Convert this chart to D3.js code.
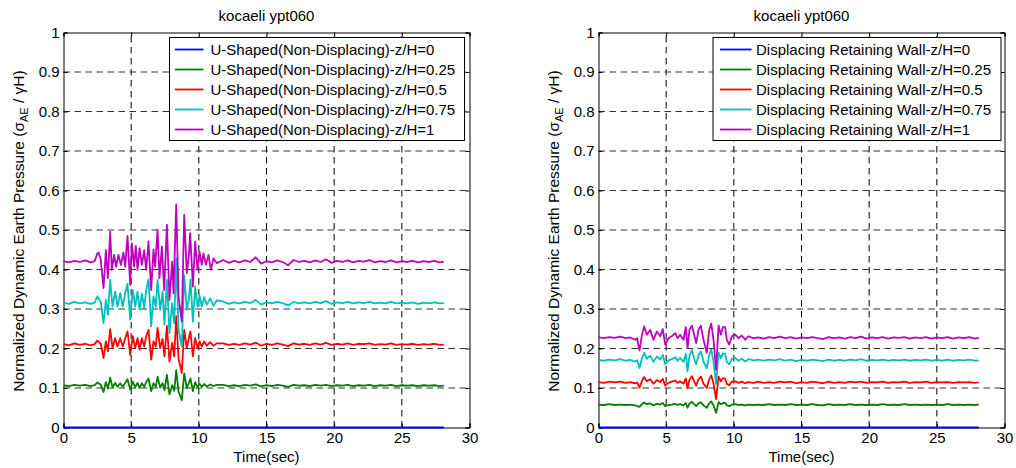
<!DOCTYPE html>
<html>
<head>
<meta charset="utf-8">
<script src="https://cdn.jsdelivr.net/npm/d3@7"></script>
<style>
  html, body { margin: 0; padding: 0; background: #fff; }
  svg { display: block; font-family: "Liberation Sans", Arial, Helvetica, sans-serif; }
</style>
</head>
<body>
<svg id="chart" width="1016" height="468"></svg>
<script>
// ---------------- DATA ----------------
const chartTitle = "kocaeli ypt060";
const xLabel = "Time(sec)";
const xTicks = [0, 5, 10, 15, 20, 25, 30];
const xTickLabels = ["0", "5", "10", "15", "20", "25", "30"];
const yTicks = [0, 0.1, 0.2, 0.3, 0.4, 0.5, 0.6, 0.7, 0.8, 0.9, 1];
const yTickLabels = ["0", "0.1", "0.2", "0.3", "0.4", "0.5", "0.6", "0.7", "0.8", "0.9", "1"];

const leftSeriesNames = [
  "U-Shaped(Non-Displacing)-z/H=0",
  "U-Shaped(Non-Displacing)-z/H=0.25",
  "U-Shaped(Non-Displacing)-z/H=0.5",
  "U-Shaped(Non-Displacing)-z/H=0.75",
  "U-Shaped(Non-Displacing)-z/H=1"
];
const rightSeriesNames = [
  "Displacing Retaining Wall-z/H=0",
  "Displacing Retaining Wall-z/H=0.25",
  "Displacing Retaining Wall-z/H=0.5",
  "Displacing Retaining Wall-z/H=0.75",
  "Displacing Retaining Wall-z/H=1"
];
const seriesColors = ["#0000ff", "#008000", "#ff0000", "#00bfbf", "#bf00bf"];

// times of the quiet tail (after strong shaking)
const quietT = [11.8,12.2,12.6,13.0,13.4,13.8,14.2,14.6,15.0,15.4,15.8,16.2,16.6,17.0,17.4,17.8,18.2,18.6,19.0,19.4,19.8,20.2,20.6,21.0,21.4,21.8,22.2,22.6,23.0,23.4,23.8,24.2,24.6,25.0,25.4,25.8,26.2,26.6,27.0,27.4,27.8,28.1];

// ---- Left panel (U-shaped, non-displacing) ----
const leftZ0 = [[0,0],[28.1,0]];
const leftZ025Active = [[0,0.107],[0.4,0.105],[0.8,0.108],[1.2,0.106],[1.6,0.108],[2.0,0.105],[2.3,0.107],[2.51,0.114],[2.75,0.108],[2.96,0.090],[3.13,0.115],[3.28,0.099],[3.45,0.126],[3.62,0.102],[3.82,0.113],[3.99,0.103],[4.19,0.112],[4.38,0.103],[4.56,0.113],[4.73,0.122],[4.93,0.096],[5.12,0.116],[5.30,0.102],[5.47,0.113],[5.62,0.100],[5.79,0.112],[5.96,0.103],[6.11,0.115],[6.28,0.124],[6.48,0.092],[6.65,0.112],[6.82,0.103],[6.95,0.129],[7.14,0.101],[7.32,0.112],[7.46,0.095],[7.64,0.133],[7.83,0.084],[8.03,0.107],[8.18,0.093],[8.33,0.145],[8.50,0.091],[8.74,0.069],[8.92,0.137],[9.11,0.100],[9.26,0.113],[9.38,0.124],[9.56,0.092],[9.73,0.115],[9.90,0.102],[10.05,0.111],[10.22,0.103],[10.39,0.110],[10.59,0.104],[10.84,0.109],[11.08,0.105],[11.33,0.108]];
const leftZ025Quiet = [0.108,0.105,0.107,0.105,0.108,0.106,0.109,0.104,0.107,0.105,0.108,0.106,0.103,0.108,0.106,0.107,0.105,0.108,0.106,0.108,0.105,0.107,0.106,0.108,0.105,0.107,0.106,0.108,0.105,0.107,0.106,0.108,0.105,0.107,0.106,0.107,0.105,0.107,0.106,0.107,0.105,0.106];
const leftZ05Active = [[0,0.211],[0.4,0.208],[0.8,0.213],[1.2,0.209],[1.6,0.212],[2.0,0.208],[2.3,0.211],[2.51,0.220],[2.75,0.212],[2.96,0.176],[3.13,0.218],[3.28,0.193],[3.45,0.249],[3.62,0.201],[3.82,0.226],[3.99,0.205],[4.19,0.226],[4.38,0.205],[4.56,0.226],[4.73,0.243],[4.93,0.184],[5.12,0.231],[5.30,0.201],[5.47,0.226],[5.62,0.197],[5.79,0.226],[5.96,0.205],[6.11,0.231],[6.28,0.247],[6.48,0.172],[6.65,0.218],[6.82,0.205],[6.95,0.252],[7.14,0.201],[7.32,0.224],[7.46,0.180],[7.64,0.257],[7.83,0.167],[8.03,0.214],[8.18,0.180],[8.33,0.282],[8.50,0.175],[8.74,0.138],[8.92,0.247],[9.11,0.201],[9.26,0.226],[9.38,0.243],[9.56,0.180],[9.73,0.226],[9.90,0.201],[10.05,0.218],[10.22,0.205],[10.39,0.218],[10.59,0.207],[10.84,0.216],[11.08,0.207],[11.33,0.213]];
const leftZ05Quiet = [0.213,0.209,0.212,0.209,0.213,0.210,0.215,0.207,0.212,0.209,0.213,0.210,0.206,0.213,0.210,0.212,0.209,0.213,0.210,0.214,0.209,0.212,0.210,0.213,0.209,0.212,0.211,0.213,0.209,0.211,0.210,0.213,0.209,0.211,0.210,0.212,0.209,0.211,0.210,0.212,0.209,0.210];
const leftZ075Active = [[0,0.316],[0.4,0.313],[0.8,0.318],[1.2,0.314],[1.6,0.317],[2.0,0.313],[2.3,0.316],[2.51,0.332],[2.75,0.318],[2.96,0.264],[3.13,0.323],[3.28,0.285],[3.45,0.374],[3.62,0.306],[3.82,0.344],[3.99,0.306],[4.19,0.340],[4.38,0.306],[4.56,0.340],[4.73,0.364],[4.93,0.273],[5.12,0.348],[5.30,0.306],[5.47,0.344],[5.62,0.298],[5.79,0.338],[5.96,0.302],[6.11,0.348],[6.28,0.375],[6.48,0.256],[6.65,0.332],[6.82,0.306],[6.95,0.374],[7.14,0.298],[7.32,0.344],[7.46,0.260],[7.64,0.374],[7.83,0.239],[8.03,0.315],[8.18,0.264],[8.33,0.428],[8.50,0.247],[8.74,0.205],[8.92,0.386],[9.11,0.298],[9.26,0.323],[9.38,0.374],[9.56,0.268],[9.73,0.357],[9.90,0.306],[10.05,0.333],[10.22,0.306],[10.39,0.330],[10.59,0.311],[10.84,0.327],[11.08,0.308],[11.33,0.322]];
const leftZ075Quiet = [0.319,0.313,0.317,0.314,0.318,0.315,0.323,0.311,0.317,0.314,0.318,0.315,0.309,0.318,0.314,0.317,0.314,0.318,0.315,0.320,0.313,0.317,0.315,0.318,0.314,0.317,0.315,0.318,0.314,0.316,0.314,0.318,0.314,0.316,0.314,0.317,0.313,0.316,0.314,0.317,0.314,0.315];
const leftZ1Active = [[0,0.421],[0.4,0.418],[0.8,0.422],[1.2,0.419],[1.6,0.423],[2.0,0.418],[2.3,0.421],[2.51,0.441],[2.59,0.443],[2.75,0.425],[2.96,0.353],[3.13,0.449],[3.28,0.378],[3.45,0.496],[3.57,0.399],[3.74,0.437],[3.89,0.407],[4.06,0.437],[4.24,0.412],[4.43,0.443],[4.56,0.407],[4.73,0.485],[4.93,0.361],[5.05,0.466],[5.22,0.407],[5.34,0.460],[5.47,0.399],[5.62,0.454],[5.79,0.412],[5.96,0.449],[6.11,0.399],[6.28,0.471],[6.48,0.348],[6.65,0.451],[6.77,0.407],[6.95,0.500],[7.09,0.378],[7.27,0.458],[7.44,0.348],[7.64,0.513],[7.83,0.323],[8.03,0.420],[8.13,0.340],[8.33,0.565],[8.50,0.332],[8.74,0.268],[8.92,0.538],[9.11,0.391],[9.26,0.433],[9.36,0.492],[9.56,0.357],[9.73,0.471],[9.90,0.399],[10.05,0.445],[10.22,0.412],[10.34,0.441],[10.52,0.412],[10.71,0.437],[10.89,0.399],[11.08,0.428],[11.33,0.416]];
const leftZ1Quiet = [0.424,0.417,0.422,0.418,0.423,0.419,0.431,0.415,0.421,0.418,0.423,0.419,0.411,0.424,0.419,0.422,0.418,0.423,0.419,0.426,0.417,0.422,0.419,0.423,0.418,0.422,0.420,0.424,0.418,0.421,0.419,0.423,0.418,0.421,0.419,0.422,0.418,0.421,0.419,0.422,0.418,0.420];

// ---- Right panel (displacing retaining wall) ----
const rightZ0 = [[0,0],[28.1,0]];
const rightZ025Active = [[0,0.058],[0.4,0.057],[0.8,0.059],[1.2,0.057],[1.6,0.058],[2.0,0.057],[2.34,0.058],[2.71,0.056],[3.03,0.052],[3.20,0.059],[3.37,0.063],[3.57,0.059],[3.82,0.061],[4.06,0.056],[4.31,0.060],[4.56,0.058],[4.75,0.062],[4.93,0.054],[5.17,0.057],[5.42,0.058],[5.67,0.060],[5.84,0.057],[6.03,0.059],[6.28,0.056],[6.45,0.062],[6.58,0.050],[6.72,0.061],[6.90,0.065],[7.07,0.059],[7.22,0.054],[7.39,0.061],[7.56,0.064],[7.76,0.056],[8.00,0.050],[8.18,0.061],[8.33,0.066],[8.50,0.056],[8.69,0.037],[8.87,0.064],[9.04,0.059],[9.19,0.062],[9.36,0.062],[9.48,0.056],[9.66,0.054],[9.85,0.058],[10.10,0.059],[10.34,0.057],[10.59,0.058],[10.84,0.056],[11.08,0.058],[11.45,0.057]];
const rightZ025Quiet = [0.058,0.057,0.059,0.057,0.058,0.057,0.059,0.057,0.058,0.057,0.059,0.057,0.056,0.059,0.057,0.058,0.057,0.059,0.057,0.058,0.057,0.058,0.057,0.059,0.057,0.058,0.057,0.059,0.057,0.058,0.057,0.058,0.057,0.058,0.057,0.059,0.057,0.058,0.057,0.058,0.057,0.058];
const rightZ05Active = [[0,0.115],[0.4,0.113],[0.8,0.116],[1.2,0.114],[1.6,0.116],[2.0,0.113],[2.34,0.115],[2.71,0.112],[2.85,0.114],[3.03,0.101],[3.20,0.117],[3.37,0.128],[3.57,0.117],[3.82,0.122],[4.06,0.111],[4.31,0.120],[4.56,0.115],[4.75,0.123],[4.93,0.106],[5.17,0.113],[5.42,0.116],[5.67,0.119],[5.84,0.113],[6.03,0.117],[6.28,0.111],[6.45,0.124],[6.58,0.099],[6.72,0.121],[6.90,0.130],[7.07,0.116],[7.22,0.106],[7.39,0.122],[7.56,0.129],[7.76,0.111],[8.00,0.100],[8.18,0.122],[8.33,0.132],[8.50,0.111],[8.69,0.072],[8.87,0.129],[9.04,0.117],[9.19,0.125],[9.36,0.124],[9.48,0.111],[9.66,0.107],[9.85,0.116],[10.10,0.117],[10.34,0.113],[10.59,0.116],[10.84,0.112],[11.08,0.115],[11.45,0.113]];
const rightZ05Quiet = [0.116,0.113,0.115,0.113,0.116,0.114,0.116,0.112,0.115,0.113,0.116,0.114,0.112,0.116,0.113,0.115,0.113,0.116,0.114,0.116,0.113,0.115,0.114,0.116,0.113,0.115,0.114,0.116,0.113,0.115,0.114,0.116,0.113,0.115,0.114,0.115,0.113,0.115,0.114,0.115,0.113,0.114];
const rightZ075Active = [[0,0.171],[0.4,0.169],[0.8,0.172],[1.2,0.170],[1.6,0.173],[2.0,0.169],[2.34,0.171],[2.71,0.167],[2.85,0.170],[3.03,0.151],[3.20,0.174],[3.37,0.189],[3.57,0.174],[3.82,0.182],[4.06,0.166],[4.31,0.180],[4.56,0.172],[4.75,0.184],[4.93,0.160],[5.17,0.170],[5.42,0.173],[5.67,0.178],[5.84,0.169],[6.03,0.176],[6.28,0.166],[6.45,0.186],[6.58,0.142],[6.72,0.182],[6.90,0.196],[7.07,0.174],[7.22,0.160],[7.39,0.183],[7.56,0.193],[7.76,0.167],[8.00,0.150],[8.18,0.183],[8.33,0.197],[8.50,0.166],[8.69,0.110],[8.87,0.190],[9.04,0.175],[9.19,0.188],[9.36,0.186],[9.48,0.166],[9.66,0.160],[9.85,0.174],[10.10,0.176],[10.34,0.169],[10.59,0.174],[10.84,0.167],[11.08,0.173],[11.45,0.170]];
const rightZ075Quiet = [0.172,0.169,0.172,0.170,0.173,0.169,0.172,0.168,0.171,0.169,0.172,0.170,0.168,0.172,0.169,0.171,0.169,0.172,0.170,0.173,0.169,0.171,0.170,0.172,0.169,0.171,0.170,0.172,0.169,0.171,0.170,0.172,0.169,0.171,0.169,0.172,0.169,0.171,0.170,0.172,0.169,0.170];
const rightZ1Active = [[0,0.228],[0.4,0.226],[0.8,0.229],[1.2,0.227],[1.6,0.230],[2.0,0.226],[2.34,0.228],[2.71,0.222],[2.85,0.226],[3.03,0.195],[3.20,0.232],[3.37,0.256],[3.57,0.235],[3.82,0.247],[4.06,0.222],[4.31,0.243],[4.56,0.231],[4.75,0.249],[4.93,0.210],[5.17,0.226],[5.42,0.231],[5.67,0.239],[5.84,0.226],[6.03,0.235],[6.28,0.222],[6.45,0.254],[6.58,0.201],[6.72,0.247],[6.90,0.258],[7.07,0.235],[7.22,0.214],[7.39,0.247],[7.56,0.258],[7.76,0.222],[8.00,0.189],[8.18,0.247],[8.33,0.263],[8.50,0.222],[8.69,0.146],[8.87,0.258],[9.04,0.235],[9.19,0.254],[9.36,0.254],[9.48,0.222],[9.66,0.210],[9.85,0.231],[10.10,0.235],[10.34,0.226],[10.59,0.233],[10.84,0.222],[11.08,0.231],[11.45,0.226]];
const rightZ1Quiet = [0.228,0.225,0.229,0.226,0.230,0.226,0.229,0.225,0.228,0.226,0.229,0.226,0.224,0.229,0.226,0.228,0.225,0.229,0.226,0.230,0.225,0.228,0.226,0.229,0.225,0.228,0.227,0.229,0.225,0.228,0.226,0.229,0.225,0.228,0.226,0.229,0.225,0.228,0.226,0.229,0.225,0.227];

// join active part with quiet tail
function joinSeries(active, quiet) {
  return active.concat(quiet.map((v, i) => [quietT[i], v]));
}
const leftSeries = [
  leftZ0,
  joinSeries(leftZ025Active, leftZ025Quiet),
  joinSeries(leftZ05Active, leftZ05Quiet),
  joinSeries(leftZ075Active, leftZ075Quiet),
  joinSeries(leftZ1Active, leftZ1Quiet)
];
const rightSeries = [
  rightZ0,
  joinSeries(rightZ025Active, rightZ025Quiet),
  joinSeries(rightZ05Active, rightZ05Quiet),
  joinSeries(rightZ075Active, rightZ075Quiet),
  joinSeries(rightZ1Active, rightZ1Quiet)
];

// ---------------- DRAW ----------------
const svg = d3.select("#chart");
const FONT = 15;

function drawPanel(cfg) {
  const g = svg.append("g");
  const x = d3.scaleLinear().domain([0, 30]).range([cfg.x0, cfg.x1]);
  const y = d3.scaleLinear().domain([0, 1]).range([427.5, 32.5]);

  // grid
  const grid = g.append("g");
  grid.selectAll("line.vg").data(xTicks.slice(1, -1)).enter().append("line")
    .attr("x1", d => x(d)).attr("x2", d => x(d))
    .attr("y1", y(0)).attr("y2", y(1))
    .attr("stroke", "#000").attr("stroke-width", 1)
    .attr("stroke-dasharray", "6.5,4.5");
  grid.selectAll("line.hg").data(yTicks.slice(1, -1)).enter().append("line")
    .attr("x1", x(0)).attr("x2", x(30))
    .attr("y1", d => y(d)).attr("y2", d => y(d))
    .attr("stroke", "#333").attr("stroke-width", 1.1)
    .attr("stroke-dasharray", "6.5,4.5");

  // axes box with inward ticks
  const bottom = d3.axisBottom(x).tickValues(xTicks).tickFormat((d, i) => xTickLabels[i]).tickSize(-4).tickPadding(5);
  const top = d3.axisTop(x).tickValues(xTicks).tickFormat("").tickSize(-4);
  const left = d3.axisLeft(y).tickValues(yTicks).tickFormat((d, i) => yTickLabels[i]).tickSize(-4).tickPadding(4);
  const right = d3.axisRight(y).tickValues(yTicks).tickFormat("").tickSize(-4);

  const gb = g.append("g").attr("transform", `translate(0,${y(0)})`).call(bottom);
  const gt = g.append("g").attr("transform", `translate(0,${y(1)})`).call(top);
  const gl = g.append("g").attr("transform", `translate(${x(0)},0)`).call(left);
  const gr = g.append("g").attr("transform", `translate(${x(30)},0)`).call(right);
  [gb, gt, gl, gr].forEach(a => {
    a.selectAll("path.domain").attr("stroke", "#000").attr("stroke-width", 1);
    a.selectAll(".tick line").attr("stroke", "#000");
    a.selectAll("text").attr("font-size", FONT).attr("fill", "#000")
      .attr("font-family", '"Liberation Sans", Arial, sans-serif');
  });
  gb.selectAll(".tick text").attr("dy", "0.71em");

  // series lines
  const line = d3.line().x(d => x(d[0])).y(d => y(d[1]));
  g.append("g").selectAll("path.s").data(cfg.series).enter().append("path")
    .attr("d", d => line(d))
    .attr("fill", "none")
    .attr("stroke", (d, i) => seriesColors[i])
    .attr("stroke-width", 1.8)
    .attr("stroke-linejoin", "round");

  // title
  g.append("text").attr("x", (cfg.x0 + cfg.x1) / 2).attr("y", 21)
    .attr("text-anchor", "middle").attr("font-size", FONT).text(chartTitle);

  // x label
  g.append("text").attr("x", (cfg.x0 + cfg.x1) / 2).attr("y", 461.5)
    .attr("text-anchor", "middle").attr("font-size", FONT).text(xLabel);

  // y label
  const yl = g.append("text")
    .attr("transform", `translate(${cfg.x0 - 40},${(y(0) + y(1)) / 2 + 1}) rotate(-90)`)
    .attr("text-anchor", "middle").attr("font-size", 15.5);
  yl.append("tspan").text("Normalized Dynamic Earth Pressure (\u03C3");
  yl.append("tspan").attr("font-size", 11).attr("dy", 4).text("AE");
  yl.append("tspan").attr("dy", -4).text(" / \u03B3H)");

  // legend
  const lg = g.append("g");
  lg.append("rect").attr("x", cfg.legX0 + 0.5).attr("y", 37.5)
    .attr("width", cfg.legX1 - cfg.legX0).attr("height", 103)
    .attr("fill", "#fff").attr("stroke", "#000").attr("stroke-width", 1);
  cfg.names.forEach((name, i) => {
    const cy = 49.5 + i * 20;
    lg.append("line").attr("x1", cfg.legL0).attr("x2", cfg.legL1)
      .attr("y1", cy).attr("y2", cy)
      .attr("stroke", seriesColors[i]).attr("stroke-width", 1.8);
    lg.append("text").attr("x", cfg.legT).attr("y", cy + 5.5)
      .attr("font-size", FONT).text(name);
  });
}

drawPanel({ x0: 63.5, x1: 469.5, series: leftSeries, names: leftSeriesNames,
  legX0: 169, legX1: 464, legL0: 175, legL1: 203.5, legT: 210.5 });
drawPanel({ x0: 598.5, x1: 1004.5, series: rightSeries, names: rightSeriesNames,
  legX0: 712.5, legX1: 1000.5, legL0: 720, legL1: 751.5, legT: 756 });
</script>
</body>
</html>
